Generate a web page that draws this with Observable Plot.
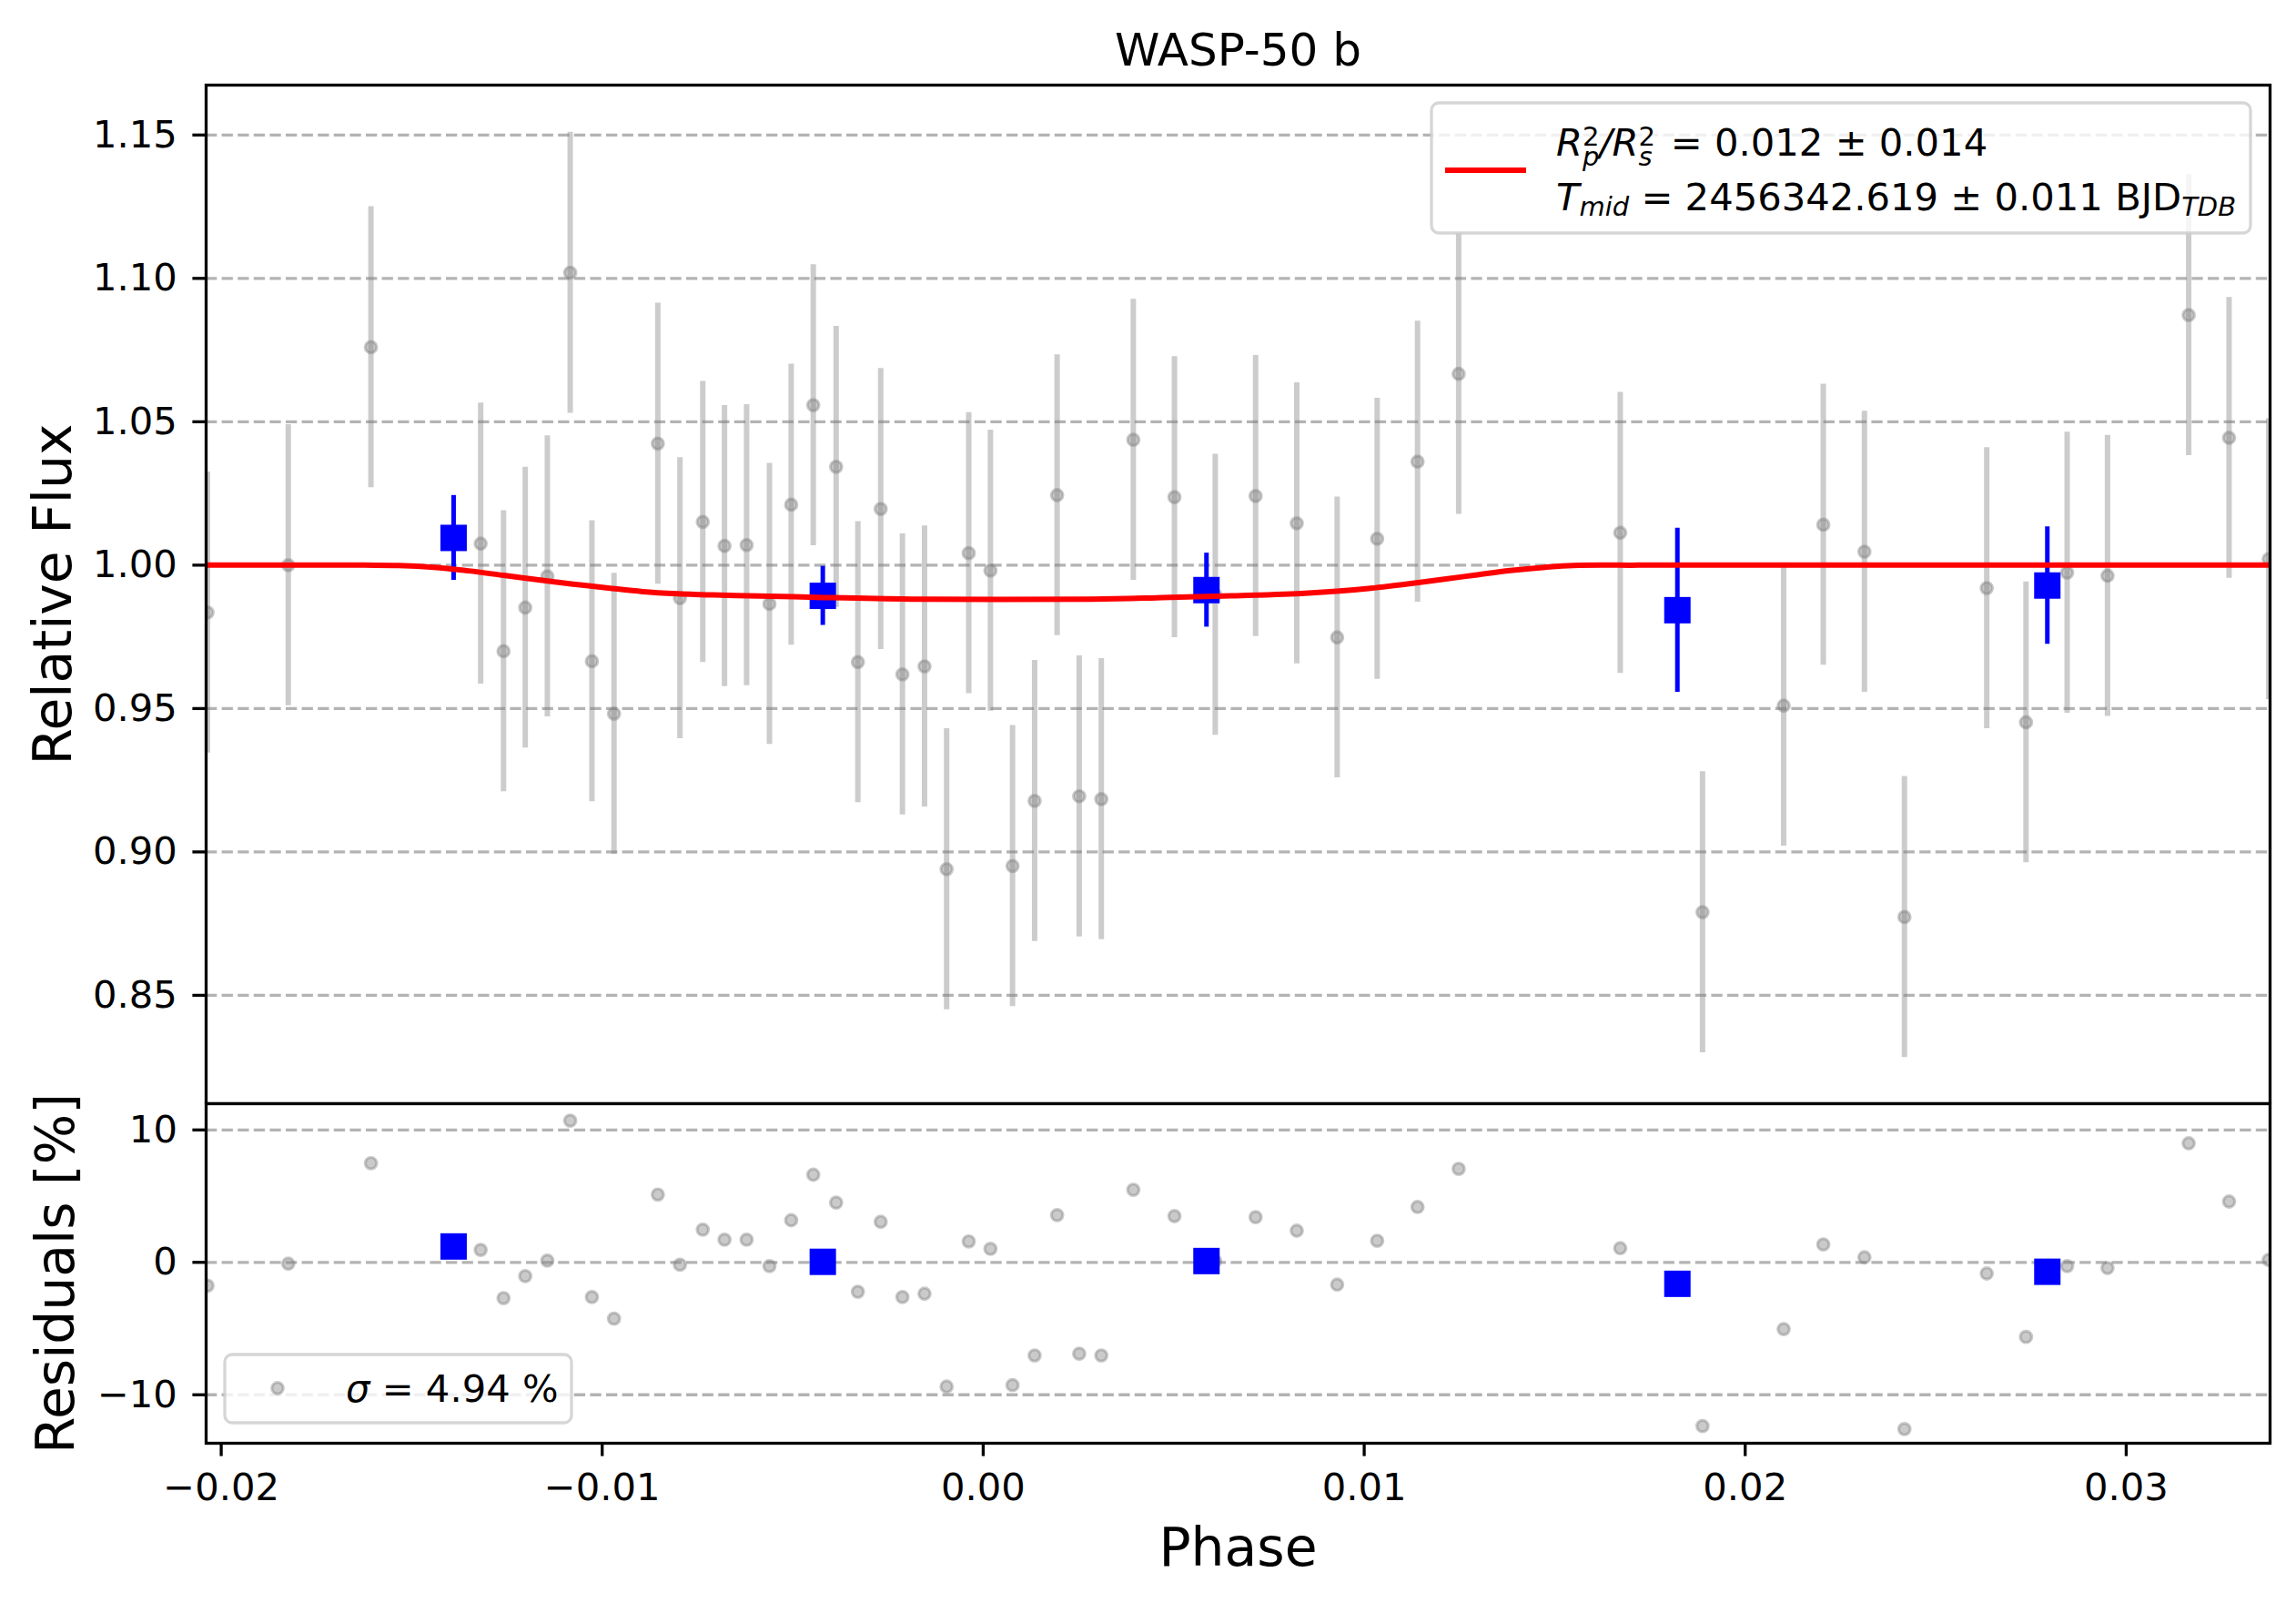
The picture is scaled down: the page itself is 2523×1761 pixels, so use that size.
<!DOCTYPE html>
<html>
<head>
<meta charset="utf-8">
<script src="https://cdn.jsdelivr.net/npm/d3@7"></script>
<script src="https://cdn.jsdelivr.net/npm/@observablehq/plot@0.6"></script>
<style>
  html, body { margin: 0; padding: 0; background: white; }
  #wrap { position: relative; width: 2523px; height: 1761px; background: white; font-family: "DejaVu Sans", sans-serif; }
  #main, #resid { position: absolute; left: 0; }
  #main { top: 0; }
  #resid { top: 1212px; }
</style>
</head>
<body>
<div id="wrap">
  <div id="main"></div>
  <div id="resid"></div>
</div>
<script>
// ---------------- data ----------------
const title = "WASP-50 b";

// unbinned observations (phase, relative flux, residual in %)
const grayPhase = [-0.02036, -0.01824, -0.01607, -0.01319, -0.01259, -0.01202, -0.01144, -0.01084, -0.01027, -0.00969,
  -0.00854, -0.00796, -0.00736, -0.00679, -0.00621, -0.00561, -0.00504, -0.00446, -0.00386, -0.00329,
  -0.00269, -0.00212, -0.00154, -0.00096, -0.00038, 0.00019, 0.00077, 0.00135, 0.00194, 0.00252,
  0.00310, 0.00394, 0.00502, 0.00609, 0.00715, 0.00823, 0.00929, 0.01034, 0.01140, 0.01248,
  0.01672, 0.01888, 0.02101, 0.02205, 0.02313, 0.02418, 0.02634, 0.02737, 0.02845, 0.02951,
  0.03164, 0.03270, 0.03374];
const grayFlux = [0.9835, 1.0000, 1.0760, 1.0075, 0.9700, 0.9852, 0.9961, 1.1020, 0.9665, 0.9482,
  1.0424, 0.9885, 1.0151, 1.0067, 1.0070, 0.9865, 1.0211, 1.0558, 1.0343, 0.9662,
  1.0196, 0.9619, 0.9647, 0.8940, 1.0042, 0.9981, 0.8951, 0.9178, 1.0244, 0.9194,
  0.9184, 1.0437, 1.0237, 0.9897, 1.0241, 1.0146, 0.9748, 1.0092, 1.0361, 1.0667,
  1.0113, 0.8790, 0.9510, 1.0141, 1.0047, 0.8773, 0.9920, 0.9452, 0.9974, 0.9963,
  1.0872, 1.0444, 1.0021];
const grayErr = [0.049, 0.049, 0.049, 0.049, 0.049, 0.049, 0.049, 0.049, 0.049, 0.049,
  0.049, 0.049, 0.049, 0.049, 0.049, 0.049, 0.049, 0.049, 0.049, 0.049,
  0.049, 0.049, 0.049, 0.049, 0.049, 0.049, 0.049, 0.049, 0.049, 0.049,
  0.049, 0.049, 0.049, 0.049, 0.049, 0.049, 0.049, 0.049, 0.049, 0.049,
  0.049, 0.049, 0.049, 0.049, 0.049, 0.049, 0.049, 0.049, 0.049, 0.049,
  0.049, 0.049, 0.049];
const grayResid = [-1.76, -0.10, 7.49, 0.94, -2.70, -1.04, 0.13, 10.70, -2.62, -4.25,
  5.12, -0.18, 2.47, 1.71, 1.71, -0.28, 3.18, 6.62, 4.51, -2.22,
  3.06, -2.62, -2.37, -9.38, 1.58, 1.02, -9.27, -7.03, 3.57, -6.90,
  -7.03, 5.48, 3.49, 0.10, 3.41, 2.39, -1.68, 1.63, 4.18, 7.06,
  1.07, -12.36, -5.04, 1.35, 0.38, -12.59, -0.84, -5.63, -0.28, -0.43,
  8.99, 4.59, 0.18];

// binned points
const binPhase = [-0.01390, -0.00421, 0.00586, 0.01822, 0.02793];
const binFlux  = [1.0095, 0.9893, 0.9913, 0.9843, 0.9929];
const binErr   = [0.0148, 0.0103, 0.0129, 0.0286, 0.0205];
const binResid = [1.20, 0.04, 0.10, -1.62, -0.71];

// transit model
const modelPhase = [-0.02040, -0.01624, -0.01534, -0.01442, -0.01350, -0.01259, -0.01167, -0.01076, -0.00984, -0.00894,
  -0.00802, -0.00710, -0.00619, -0.00528, -0.00436, -0.00191, 0.00286, 0.00469, 0.00652, 0.00835,
  0.00927, 0.01017, 0.01109, 0.01201, 0.01292, 0.01383, 0.01475, 0.01548, 0.01720, 0.03378];
const modelFlux = [1.0000, 1.0000, 0.9999, 0.99927, 0.99801, 0.99644, 0.99486, 0.99340, 0.99203, 0.99078,
  0.99004, 0.98962, 0.98931, 0.98910, 0.98879, 0.98816, 0.98816, 0.98868, 0.98931, 0.99015,
  0.99088, 0.99193, 0.99340, 0.99497, 0.99654, 0.99811, 0.99927, 0.99990, 1.0000, 1.0000];

// ticks
const phaseTicks = [-0.02, -0.01, 0.00, 0.01, 0.02, 0.03];
const fluxTicks = [0.85, 0.90, 0.95, 1.00, 1.05, 1.10, 1.15];
const residTicks = [-10, 0, 10];

// text
const fluxLabel = "Relative Flux";
const residLabel = "Residuals [%]";
const phaseLabel = "Phase";
const sigmaText = "4.94";
const depthText = ["0.012", "0.014"];
const tmidText = ["2456342.619", "0.011"];

// ---------------- build tables ----------------
const gray = grayPhase.map((p, i) => ({phase: p, flux: grayFlux[i], err: grayErr[i], resid: grayResid[i]}));
const binned = binPhase.map((p, i) => ({phase: p, flux: binFlux[i], err: binErr[i], resid: binResid[i]}));
const model = modelPhase.map((p, i) => ({phase: p, flux: modelFlux[i]}));

const W = 2523;
const xDomain = [-0.020396, 0.033776];
const TICK = 14.6, SW = 3.3, FS = 41.7, LFS = 58.3;
const sq = 29 / Math.sqrt(Math.PI);
const DOT_R = 6.3, DOT_SW = 3.2;
const gridStyle = {stroke: "gray", strokeOpacity: 0.6, strokeWidth: 3.3, strokeDasharray: "12.3,5.3"};
const style = {background: "white", fontFamily: "DejaVu Sans, sans-serif", fontSize: FS + "px", color: "black", overflow: "visible"};
const dotStyle = {r: DOT_R, fill: "gray", fillOpacity: 0.42, stroke: "gray", strokeOpacity: 0.42, strokeWidth: DOT_SW, clip: true};

const MAIN_H = 1212, RES_H = 549, RES_MB = 176;

const mainSvg = Plot.plot({
  width: W, height: MAIN_H,
  marginTop: 93, marginBottom: 0, marginLeft: 226, marginRight: 29,
  style,
  x: {domain: xDomain, axis: null},
  y: {domain: [0.8122, 1.1674]},
  marks: [
    Plot.gridY(fluxTicks, gridStyle),
    Plot.ruleX(gray, {x: "phase", y1: d => d.flux - d.err, y2: d => d.flux + d.err, stroke: "gray", strokeOpacity: 0.4, strokeWidth: 6, clip: true}),
    Plot.dot(gray, {x: "phase", y: "flux", ...dotStyle}),
    Plot.ruleX(binned, {x: "phase", y1: d => d.flux - d.err, y2: d => d.flux + d.err, stroke: "blue", strokeWidth: 5}),
    Plot.dot(binned, {x: "phase", y: "flux", symbol: "square", r: sq, fill: "blue", stroke: null}),
    Plot.line(model, {x: "phase", y: "flux", stroke: "red", strokeWidth: 6, curve: "catmull-rom", clip: true}),
    Plot.axisY(fluxTicks, {tickSize: TICK, tickPadding: 17, tickFormat: d3.format(".2f"), strokeWidth: SW, fontSize: FS, label: null}),
    Plot.frame({stroke: "black", strokeWidth: SW}),
    Plot.text([fluxLabel], {text: d => d, frameAnchor: "left", textAnchor: "middle", rotate: -90, dx: -167.6, fontSize: LFS, lineAnchor: "middle"}),
    Plot.text([title], {text: d => d, frameAnchor: "top", textAnchor: "middle", dy: -38, fontSize: 50, lineAnchor: "middle"})
  ]
});
document.getElementById("main").appendChild(mainSvg);

const residSvg = Plot.plot({
  width: W, height: RES_H,
  marginTop: 0, marginBottom: RES_MB, marginLeft: 226, marginRight: 29,
  style,
  x: {domain: xDomain},
  y: {domain: [-13.66, 11.98]},
  marks: [
    Plot.gridY(residTicks, gridStyle),
    Plot.dot(gray, {x: "phase", y: "resid", ...dotStyle}),
    Plot.dot(binned, {x: "phase", y: "resid", symbol: "square", r: sq, fill: "blue", stroke: null}),
    Plot.axisY(residTicks, {tickSize: TICK, tickPadding: 17, tickFormat: d3.format("d"), strokeWidth: SW, fontSize: FS, label: null}),
    Plot.axisX(phaseTicks, {tickSize: TICK, tickPadding: 18.4, tickFormat: d3.format(".2f"), strokeWidth: SW, fontSize: FS, label: null}),
    Plot.frame({stroke: "black", strokeWidth: SW}),
    Plot.text([residLabel], {text: d => d, frameAnchor: "left", textAnchor: "middle", rotate: -90, dx: -164, fontSize: LFS, lineAnchor: "middle"}),
    Plot.text([phaseLabel], {text: d => d, frameAnchor: "bottom", textAnchor: "middle", dy: 116.3, fontSize: LFS, lineAnchor: "middle"})
  ]
});
document.getElementById("resid").appendChild(residSvg);

// ---------------- legends ----------------
const FF = "DejaVu Sans, sans-serif";
const SUB = 29;
// main legend
{
  const g = d3.select(mainSvg).append("g").attr("font-family", FF).attr("fill", "black").attr("text-anchor", "start");
  g.append("rect").attr("x", 1573).attr("y", 113).attr("width", 900).attr("height", 143).attr("rx", 8)
    .attr("fill", "white").attr("fill-opacity", 0.8).attr("stroke", "#cccccc").attr("stroke-opacity", 0.8).attr("stroke-width", 3.3);
  g.append("line").attr("x1", 1588).attr("x2", 1677).attr("y1", 187).attr("y2", 187)
    .attr("stroke", "red").attr("stroke-width", 6);
  const t1 = g.append("text").attr("x", 1710).attr("y", 170.7).attr("font-size", FS).attr("text-anchor", "start");
  t1.append("tspan").attr("font-style", "italic").text("R");
  t1.append("tspan").attr("font-size", SUB).attr("dy", -10.7).text("2");
  t1.append("tspan").attr("font-size", SUB).attr("font-style", "italic").attr("dx", -18.4).attr("dy", 21.7).text("p");
  t1.append("tspan").attr("font-style", "italic").attr("dy", -11).text("/R");
  t1.append("tspan").attr("font-size", SUB).attr("dy", -10.7).text("2");
  t1.append("tspan").attr("font-size", SUB).attr("font-style", "italic").attr("dx", -18.4).attr("dy", 21.7).text("s");
  t1.append("tspan").attr("dx", 7).attr("dy", -11).text(" = " + depthText[0] + " \u00B1 " + depthText[1]);
  const t2 = g.append("text").attr("x", 1710).attr("y", 230.7).attr("font-size", FS).attr("text-anchor", "start");
  t2.append("tspan").attr("font-style", "italic").text("T");
  t2.append("tspan").attr("font-size", SUB).attr("font-style", "italic").attr("dy", 6).text("mid");
  t2.append("tspan").attr("dy", -6).text(" = " + tmidText[0] + " \u00B1 " + tmidText[1] + " BJD");
  t2.append("tspan").attr("font-size", SUB).attr("font-style", "italic").attr("dy", 6).text("TDB");
}
// residual legend
{
  const g = d3.select(residSvg).append("g").attr("font-family", FF).attr("fill", "black").attr("text-anchor", "start");
  g.append("rect").attr("x", 247).attr("y", 276).attr("width", 381).attr("height", 75).attr("rx", 8)
    .attr("fill", "white").attr("fill-opacity", 0.8).attr("stroke", "#cccccc").attr("stroke-opacity", 0.8).attr("stroke-width", 3.3);
  g.append("circle").attr("cx", 305).attr("cy", 313).attr("r", DOT_R)
    .attr("fill", "gray").attr("fill-opacity", 0.42).attr("stroke", "gray").attr("stroke-opacity", 0.42).attr("stroke-width", DOT_SW);
  const t = g.append("text").attr("x", 380).attr("y", 328).attr("font-size", FS).attr("text-anchor", "start");
  t.append("tspan").attr("font-style", "italic").text("\u03C3");
  t.append("tspan").text(" = " + sigmaText + " %");
}
</script>
</body>
</html>
